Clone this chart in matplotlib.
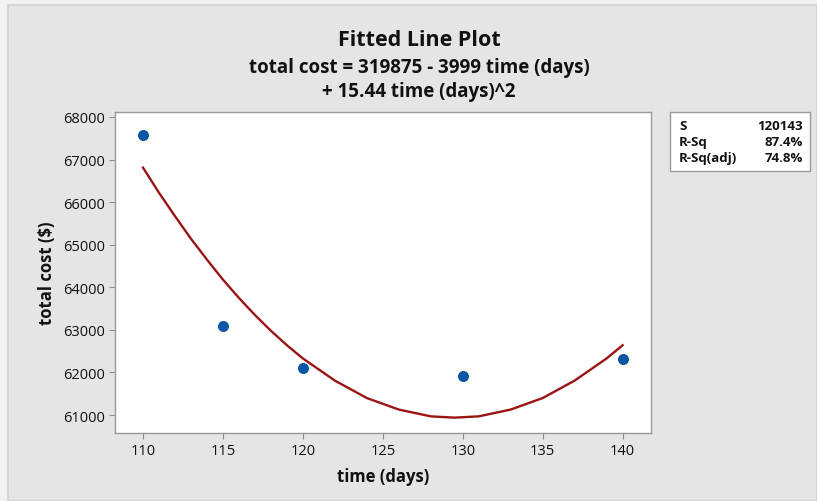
import matplotlib
matplotlib.use('Agg')
import matplotlib.pyplot as plt
from matplotlib.patches import Rectangle

plt.rcParams['font.family'] = ['Open Sans', 'DejaVu Sans']

# observed data
time_days = [110, 115, 120, 130, 140]
total_cost = [67580, 63100, 62100, 61910, 62310]

# fitted curve
curve_x = [110, 111, 112, 113, 114, 115, 116, 117, 118, 119, 120, 122, 124,
           126, 128, 129.5, 131, 133, 135, 137, 139, 140]
curve_y = [66810, 66220, 65670, 65140, 64650, 64180, 63750, 63350, 62980,
           62640, 62330, 61810, 61400, 61130, 60970, 60940, 60970, 61130,
           61400, 61810, 62330, 62640]

x_ticks = [110, 115, 120, 125, 130, 135, 140]
y_ticks = [61000, 62000, 63000, 64000, 65000, 66000, 67000, 68000]

stat_names = ['S', 'R-Sq', 'R-Sq(adj)']
stat_values = ['120143', '87.4%', '74.8%']

fig = plt.figure(figsize=(8.17, 5.02), dpi=100)
fig.patch.set_facecolor('#f2f2f2')
fig.patches.append(Rectangle((0.01, 0.0), 0.99, 0.988, transform=fig.transFigure,
                             facecolor='#e5e5e5', edgecolor='#d0d0d0', lw=1.2, zorder=-5))

ax = fig.add_axes([0.1408, 0.1355, 0.6555, 0.6385])
ax.set_zorder(2)
ax.set_facecolor('white')
ax.plot(curve_x, curve_y, color='#9b1414', lw=1.7, zorder=2)
ax.scatter(time_days, total_cost, s=48, color='#0a56a5', zorder=3)

ax.set_xlim(108.25, 141.75)
ax.set_ylim(60580, 68105)
ax.set_xticks(x_ticks)
ax.set_yticks(y_ticks)
ax.tick_params(axis='both', direction='out', length=4, color='#8c8c8c',
               labelsize=10.5, labelcolor='#111111', pad=3)
for s in ax.spines.values():
    s.set_color('#9a9a9a')
    s.set_linewidth(1)

ax.set_xlabel('time (days)', fontsize=12, fontweight='bold', color='#111111', labelpad=7)
ax.set_ylabel('total cost ($)', fontsize=12, fontweight='bold', color='#111111', labelpad=5)

fig.text(0.513, 0.92, 'Fitted Line Plot', ha='center', va='center',
         fontsize=15.5, fontweight='bold', color='#111111')
fig.text(0.513, 0.865, 'total cost = 319875 - 3999 time (days)', ha='center', va='center',
         fontsize=13.5, fontweight='bold', color='#111111')
fig.text(0.513, 0.817, '+ 15.44 time (days)^2', ha='center', va='center',
         fontsize=13.5, fontweight='bold', color='#111111')

# stats box
fig.patches.append(Rectangle((670 / 817, 1 - 172 / 502), 140 / 817, 59 / 502,
                             transform=fig.transFigure, facecolor='white',
                             edgecolor='#9a9a9a', lw=1, zorder=1))
for i, (n, v) in enumerate(zip(stat_names, stat_values)):
    yy = 1 - (126 + i * 16.5) / 502
    fig.text(679 / 817, yy, n, ha='left', va='center', fontsize=9.5,
             fontweight='bold', color='#111111')
    fig.text(803 / 817, yy, v, ha='right', va='center', fontsize=9.5,
             fontweight='bold', color='#111111')

fig.savefig('out.png', dpi=100, facecolor=fig.get_facecolor())
